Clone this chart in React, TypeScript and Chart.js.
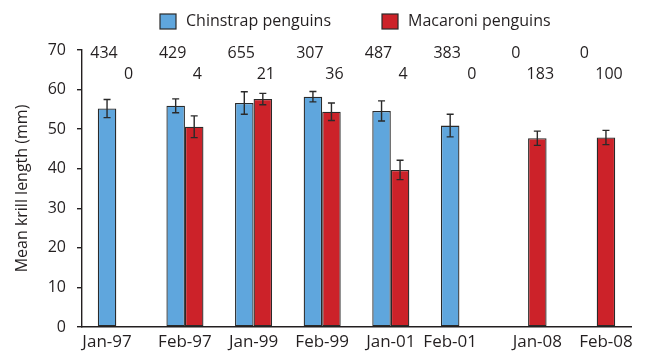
import { useEffect, useRef } from "react";
import { Chart, registerables } from "chart.js";

Chart.register(...registerables);

// Sampling months
const categories = ["Jan-97", "Feb-97", "Jan-99", "Feb-99", "Jan-01", "Feb-01", "Jan-08", "Feb-08"];

// Mean krill length (mm) in penguin diets, with ± error
const chinstrapMean: (number | null)[] = [55.2, 55.9, 56.6, 58.2, 54.6, 50.9, null, null];
const chinstrapErr: (number | null)[] = [2.3, 1.75, 2.85, 1.3, 2.55, 2.85, null, null];
const macaroniMean: (number | null)[] = [null, 50.6, 57.6, 54.4, 39.7, null, 47.7, 47.9];
const macaroniErr: (number | null)[] = [null, 2.75, 1.45, 2.2, 2.45, null, 1.8, 1.8];

// Number of krill measured per sample
const chinstrapN = [434, 429, 655, 307, 487, 383, 0, 0];
const macaroniN = [0, 4, 21, 36, 4, 0, 183, 100];

const seriesNames = ["Chinstrap penguins", "Macaroni penguins"];
const yMin = 0;
const yMax = 70;
const yStep = 10;
const yTitle = "Mean krill length (mm)";

const BLUE = "#5fa6dd";
const RED = "#cc2229";
const EDGE = "#2a2a2a";
const INK = "#231f20";
const FONT = "'Open Sans', sans-serif";
const CAT_PCT = 0.54;

const errors = [chinstrapErr, macaroniErr];
const means = [chinstrapMean, macaroniMean];

function barWidth(chart: Chart) {
  const xs = chart.scales.x;
  return ((xs.right - xs.left) / categories.length) * CAT_PCT / 2;
}

// Error whiskers with caps
const errorBarPlugin = {
  id: "errorBars",
  afterDatasetsDraw(chart: Chart) {
    const { ctx } = chart;
    const ys = chart.scales.y;
    ctx.save();
    ctx.strokeStyle = EDGE;
    ctx.lineWidth = 1.4;
    means.forEach((vals, di) => {
      const meta = chart.getDatasetMeta(di);
      vals.forEach((v, j) => {
        const e = errors[di][j];
        if (v == null || e == null) return;
        const x = (meta.data[j] as any).x;
        const top = ys.getPixelForValue(v + e);
        const bot = ys.getPixelForValue(v - e);
        ctx.beginPath();
        ctx.moveTo(x, top);
        ctx.lineTo(x, bot);
        ctx.moveTo(x - 3.5, top);
        ctx.lineTo(x + 3.5, top);
        ctx.moveTo(x - 3.5, bot);
        ctx.lineTo(x + 3.5, bot);
        ctx.stroke();
      });
    });
    ctx.restore();
  },
};

// Sample sizes, category labels under the bars, and the legend
const annotationPlugin = {
  id: "annotations",
  afterDraw(chart: Chart) {
    const { ctx, chartArea } = chart;
    const xs = chart.scales.x;
    const bw = barWidth(chart);
    ctx.save();
    ctx.fillStyle = INK;
    ctx.textAlign = "center";
    ctx.textBaseline = "middle";
    categories.forEach((label, j) => {
      const c = xs.getPixelForValue(j);
      ctx.font = `16px ${FONT}`;
      ctx.fillText(String(chinstrapN[j]), c - bw / 2 - 3, chartArea.top + 3);
      ctx.fillText(String(macaroniN[j]), c + bw / 2 + 3, chartArea.top + 24.5);
      const present: number[] = [];
      if (chinstrapMean[j] != null) present.push(c - bw / 2);
      if (macaroniMean[j] != null) present.push(c + bw / 2);
      const lx = present.reduce((a, b) => a + b, 0) / present.length;
      ctx.font = `17px ${FONT}`;
      ctx.fillText(label, lx, chartArea.bottom + 15);
    });

    // legend
    const colors = [BLUE, RED];
    let x = 160;
    const boxY = 14;
    ctx.font = `16px ${FONT}`;
    ctx.textAlign = "left";
    seriesNames.forEach((name, i) => {
      ctx.fillStyle = colors[i];
      ctx.fillRect(x, boxY, 16, 15);
      ctx.strokeStyle = EDGE;
      ctx.lineWidth = 1.2;
      ctx.strokeRect(x, boxY, 16, 15);
      ctx.fillStyle = INK;
      ctx.fillText(name, x + 26, boxY + 7.5);
      x += 26 + ctx.measureText(name).width + 51;
    });
    ctx.restore();
  },
};

export default function App() {
  const canvasRef = useRef<HTMLCanvasElement | null>(null);

  useEffect(() => {
    document.body.style.margin = "0";
    const canvas = canvasRef.current;
    if (!canvas) return;
    const chart = new Chart(canvas, {
      type: "bar",
      data: {
        labels: categories,
        datasets: [
          {
            label: seriesNames[0],
            data: chinstrapMean,
            backgroundColor: BLUE,
            borderColor: EDGE,
            borderWidth: 1.3,
            borderSkipped: false,
          },
          {
            label: seriesNames[1],
            data: macaroniMean,
            backgroundColor: RED,
            borderColor: EDGE,
            borderWidth: 1.3,
            borderSkipped: false,
          },
        ],
      },
      options: {
        animation: false,
        responsive: true,
        maintainAspectRatio: false,
        datasets: {
          bar: { categoryPercentage: CAT_PCT, barPercentage: 1 },
        },
        layout: { padding: { top: 50, right: 17, bottom: 0, left: 0 } },
        plugins: {
          legend: { display: false },
          tooltip: { enabled: false },
        },
        scales: {
          x: {
            grid: { display: false },
            border: { display: true, color: INK, width: 1.4 },
            ticks: { display: false },
            afterFit: (scale: any) => {
              scale.height = 25;
            },
          },
          y: {
            min: yMin,
            max: yMax,
            grid: {
              display: true,
              drawOnChartArea: false,
              drawTicks: true,
              tickLength: 5,
              color: INK,
              lineWidth: 1.4,
            },
            border: { display: true, color: INK, width: 1.4 },
            ticks: {
              stepSize: yStep,
              padding: 11,
              color: INK,
              font: { family: FONT, size: 16 },
            },
            title: {
              display: true,
              text: yTitle,
              color: INK,
              font: { family: FONT, size: 16 },
              padding: { top: 13, bottom: 0 },
            },
            afterFit: (scale: any) => {
              scale.width = 82;
            },
          },
        },
      },
      plugins: [errorBarPlugin, annotationPlugin],
    });
    return () => chart.destroy();
  }, []);

  return (
    <div style={{ width: 648, height: 352, position: "relative", background: "#fff" }}>
      <canvas ref={canvasRef} />
    </div>
  );
}
